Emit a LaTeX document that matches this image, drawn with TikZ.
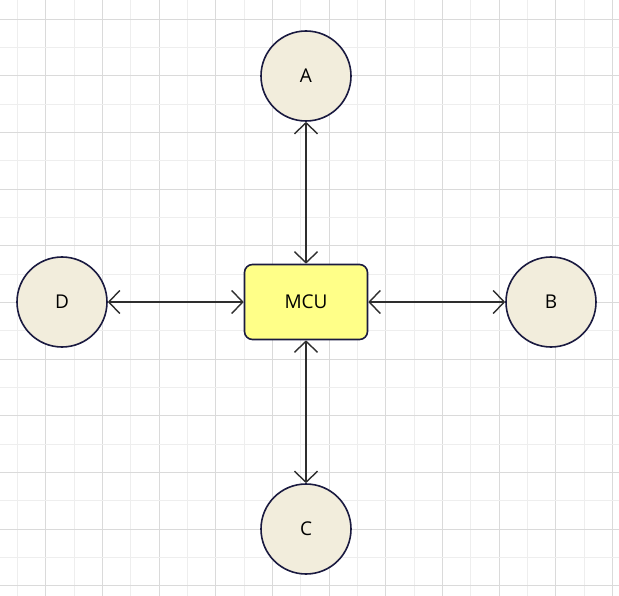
\documentclass[tikz,border=0pt]{standalone}
\usepackage{fontspec}
\setmainfont{Open Sans}
\usetikzlibrary{positioning,arrows.meta,backgrounds}
\definecolor{gridmajor}{HTML}{DADADA}
\definecolor{gridminor}{HTML}{EEEEEE}
\definecolor{ink}{HTML}{1A1A40}
\definecolor{wire}{HTML}{2E2E2E}
\definecolor{peer}{HTML}{F2EDDC}
\definecolor{chip}{HTML}{FFFF88}

\begin{document}
\begin{tikzpicture}[x=1pt, y=-1pt,
    >={Straight Barb[length=11pt, width=23pt]},
    peernode/.style={circle, draw=ink, fill=peer, line width=1.6pt, minimum size=90pt, font=\fontsize{19}{22}\selectfont},
    chipnode/.style={rectangle, rounded corners=8pt, draw=ink, fill=chip, line width=1.6pt, minimum width=123pt, minimum height=75pt, font=\fontsize{19}{22}\selectfont},
    link/.style={<->, wire, line width=1.4pt}]
    % page and grid
    \fill[white] (0,0) rectangle (619,596);
    \useasboundingbox (0,0) rectangle (619,596);
    \foreach \k in {0,...,21} {
      \pgfmathsetmacro{\gx}{17.5+28.33*\k}
      \ifodd\k
        \draw[gridmajor, line width=1pt] (\gx,0) -- (\gx,596);
      \else
        \draw[gridminor, line width=1pt] (\gx,0) -- (\gx,596);
      \fi
    }
    \foreach \k in {0,...,20} {
      \pgfmathsetmacro{\gy}{19.3+28.33*\k}
      \ifodd\k
        \draw[gridminor, line width=1pt] (0,\gy) -- (619,\gy);
      \else
        \draw[gridmajor, line width=1pt] (0,\gy) -- (619,\gy);
      \fi
    }
    % controller in the middle
    \node[chipnode] (mcu) at (306,302) {MCU};
    % peripherals
    \node[peernode] (a) at (306,76) {A};
    \node[peernode] (b) at (551,302) {B};
    \node[peernode] (c) at (306,529) {C};
    \node[peernode] (d) at (62,302) {D};
    % links
    \draw[link] (a) -- (mcu);
    \draw[link] (mcu) -- (b);
    \draw[link] (mcu) -- (c);
    \draw[link] (d) -- (mcu);
\end{tikzpicture}
\end{document}
